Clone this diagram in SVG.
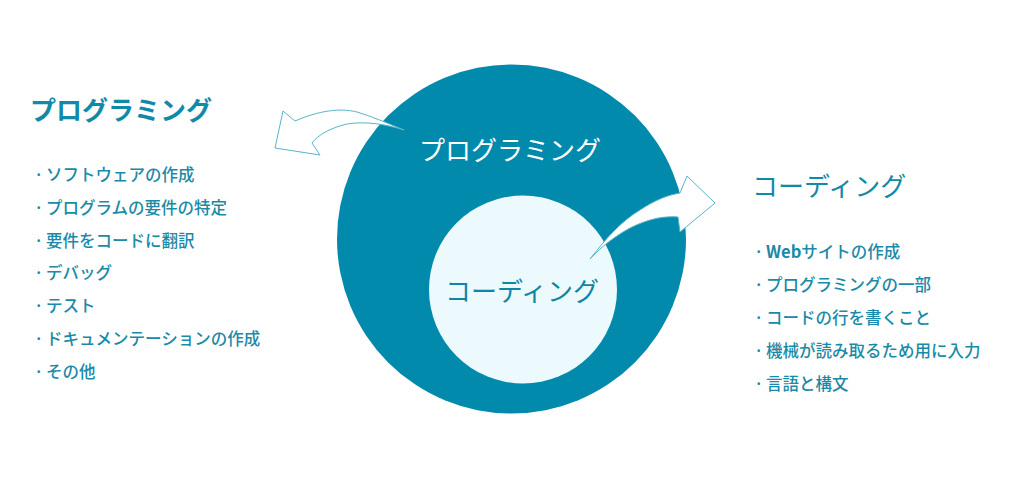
<svg xmlns="http://www.w3.org/2000/svg" width="1024" height="479" viewBox="0 0 1024 479">
<style>
text{font-family:"Noto Sans CJK JP","Noto Sans",sans-serif;}
.title{font-size:26px;fill:#1189a8;}
.item{font-size:16.5px;fill:#1a8aa8;font-weight:500;}
.arrow{fill:#ffffff;stroke:#5ab3cb;stroke-width:1;stroke-linejoin:miter;}
</style>
<rect width="1024" height="479" fill="#ffffff"/>
<g id="programming-circle">
<circle cx="511.5" cy="239" r="174.5" fill="#018aab"/>
<text x="510" y="160" text-anchor="middle" style="font-size:26px;fill:#ffffff">プログラミング</text>
</g>
<g id="coding-circle">
<circle cx="523" cy="289.5" r="94" fill="#edfafd"/>
<text x="522" y="301" text-anchor="middle" style="font-size:26px;fill:#0f86a4">コーディング</text>
</g>
<g id="connectors">
<path class="arrow" d="M404,130 C385,122 370,116 357,112 C345,109 325,108 295,121 L283,111 L275,148 L320,155 L312,143 C318,135 330,128 347,124 C365,121 385,124 404,130 Z"/>
<path class="arrow" d="M590,259 C605,240 620,222 640,210 C655,200 668,195 680,193 L687,176 L715,203 L680,232 L678,217 C665,216 650,218 630,228 C615,236 600,248 590,259 Z"/>
</g>
<g id="programming-list">
<text class="title" x="30" y="120" style="font-weight:bold">プログラミング</text>
<text class="item" y="181"><tspan x="34">·</tspan><tspan x="46">ソフトウェアの作成</tspan></text>
<text class="item" y="214"><tspan x="34">·</tspan><tspan x="46">プログラムの要件の特定</tspan></text>
<text class="item" y="247"><tspan x="34">·</tspan><tspan x="46">要件をコードに翻訳</tspan></text>
<text class="item" y="279"><tspan x="34">·</tspan><tspan x="46">デバッグ</tspan></text>
<text class="item" y="312"><tspan x="34">·</tspan><tspan x="46">テスト</tspan></text>
<text class="item" y="345"><tspan x="34">·</tspan><tspan x="46">ドキュメンテーションの作成</tspan></text>
<text class="item" y="378"><tspan x="34">·</tspan><tspan x="46">その他</tspan></text>
</g>
<g id="coding-list">
<text class="title" x="752" y="196">コーディング</text>
<text class="item" y="258"><tspan x="754">·</tspan><tspan x="766" style="font-weight:bold">Web</tspan><tspan>サイトの作成</tspan></text>
<text class="item" y="291"><tspan x="754">·</tspan><tspan x="766">プログラミングの一部</tspan></text>
<text class="item" y="324"><tspan x="754">·</tspan><tspan x="766">コードの行を書くこと</tspan></text>
<text class="item" y="357"><tspan x="754">·</tspan><tspan x="766">機械が読み取るため用に入力</tspan></text>
<text class="item" y="390"><tspan x="754">·</tspan><tspan x="766">言語と構文</tspan></text>
</g>
</svg>
